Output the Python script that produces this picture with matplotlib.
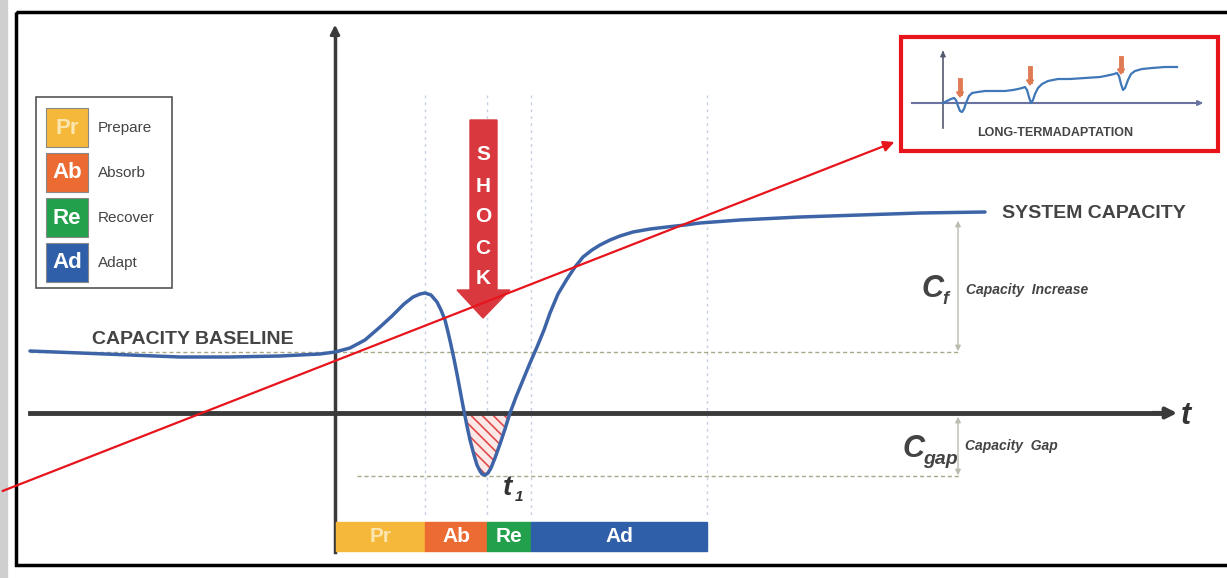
import numpy as np
import matplotlib.pyplot as plt
from matplotlib.patches import Rectangle, Polygon

plt.rcParams['font.family'] = ['Liberation Sans', 'DejaVu Sans']
plt.rcParams['hatch.linewidth'] = 1.2

# Main capacity curve (pixel coordinates of the diagram, y grows downward)
curve_x = [30, 80, 130, 180, 230, 280, 320, 335, 350, 365, 380, 392, 404, 413, 420,
           425, 431, 437, 441, 445, 448, 451, 454, 457, 460, 463, 467, 470, 474,
           477, 480, 482, 485, 488, 491, 495, 500, 505, 510, 516, 523, 530, 537,
           544, 550, 558, 567, 575, 583, 592, 600, 610, 620, 633, 650, 667, 685,
           700, 740, 800, 860, 920, 985]
curve_y = [351, 353, 355, 357, 357, 356, 354, 352, 348, 340, 327, 316, 304, 297, 294,
           293, 295, 302, 310, 320, 332, 345, 359, 374, 390, 406, 426, 440, 455,
           465, 471, 474, 475, 473, 468, 458, 444, 429, 413, 397, 380, 363, 347,
           330, 313, 294, 279, 267, 257, 250, 245, 240, 236, 232, 229, 227, 225,
           223, 220, 217, 215, 213, 212]

# Phases
phase_codes = ['Pr', 'Ab', 'Re', 'Ad']
phase_names = ['Prepare', 'Absorb', 'Recover', 'Adapt']
phase_colors = ['#F6B83A', '#EC6B33', '#23A04C', '#2F5FA9']
phase_edges = [336, 425, 487, 531, 707]

# Inset long-term adaptation curve
inset_x = [943, 947, 951, 954, 956, 958, 960, 962, 964, 966, 969, 972, 978, 985,
           995, 1005, 1013, 1018, 1022, 1025, 1027, 1029, 1031, 1033, 1035, 1038,
           1042, 1048, 1058, 1070, 1085, 1100, 1110, 1114, 1117, 1119, 1121, 1123,
           1125, 1128, 1131, 1135, 1142, 1152, 1165, 1177]
inset_y = [103, 101, 99, 98, 100, 106, 111, 112, 109, 103, 96, 93, 92, 91,
           91, 91, 90, 89, 88, 87, 90, 97, 103, 100, 94, 88,
           84, 81, 79, 79, 78, 77, 75, 74, 73, 76, 84, 90,
           88, 80, 74, 71, 69, 68, 67, 67]
shock_marks_x = [960, 1030, 1121]
shock_marks_top = [80, 68, 58]
shock_marks_bottom = [97, 85, 74]

fig = plt.figure(figsize=(12.27, 5.78), dpi=100)
ax = fig.add_axes([0, 0, 1, 1])
ax.set_xlim(0, 1227)
ax.set_ylim(578, 0)
ax.axis('off')

# page background pieces
ax.add_patch(Rectangle((0, 0), 7, 578, color='#cfcfcf', zorder=0))
ax.add_patch(Rectangle((16, 12), 1240, 553, fill=False, ec='black', lw=2.5, zorder=1))

# vertical phase guide lines
for xv in phase_edges[1:]:
    ax.plot([xv, xv], [95, 518], color='#c5d0e0', lw=1, ls=(0, (2, 3)), zorder=1)

# baseline and gap dashed lines
ax.plot([30, 960], [352, 352], color='#a9a98a', lw=1, ls=(0, (3, 2)), zorder=2)
ax.plot([357, 960], [476, 476], color='#a9a98a', lw=1, ls=(0, (3, 2)), zorder=2)

# axes
ax.plot([335, 335], [552, 30], color='#3a3a3a', lw=2.5, zorder=3)
ax.annotate('', xy=(335, 22), xytext=(335, 40),
            arrowprops=dict(arrowstyle='-|>', color='#3a3a3a', lw=2, mutation_scale=14), zorder=3)
ax.plot([30, 1165], [413, 413], color='#3a3a3a', lw=3.5, zorder=3)
ax.annotate('', xy=(1180, 413), xytext=(1150, 413),
            arrowprops=dict(arrowstyle='-|>', color='#3a3a3a', lw=3, mutation_scale=16), zorder=3)
ax.text(1186, 416, 't', fontsize=22, fontweight='bold', style='italic', color='#333333',
        ha='center', va='center', zorder=4)

# capacity gap hatch
cx = np.array(curve_x)
cy = np.array(curve_y)
ax.fill_between(cx, cy, 413, where=cy > 413, interpolate=True, facecolor='#fde8e8',
                edgecolor='#e04a4a', hatch='\\\\\\', lw=0, zorder=2)

# main curve
ax.plot(curve_x, curve_y, color='#3e64a8', lw=2.5, solid_capstyle='round',
        solid_joinstyle='round', zorder=4)

# shock arrow
ax.add_patch(Polygon([(470, 120), (497, 120), (497, 290), (510, 290), (483, 318),
                      (457, 290), (470, 290)], closed=True, color='#D8383E', zorder=5))
for k, ch in enumerate('SHOCK'):
    ax.text(483, 155 + k * 31, ch, fontsize=15, color='white', ha='center', va='center',
            fontweight='bold', zorder=6)

# t1
ax.text(503, 488, 't', fontsize=20, fontweight='bold', style='italic', color='#333333',
        ha='left', va='center', zorder=6)
ax.text(515, 497, '1', fontsize=11, fontweight='bold', style='italic', color='#333333',
        ha='left', va='center', zorder=6)

# phase bar
for i, code in enumerate(phase_codes):
    x0, x1 = phase_edges[i], phase_edges[i + 1]
    ax.add_patch(Rectangle((x0, 522), x1 - x0, 29, color=phase_colors[i], zorder=5))
    tc = '#fbe6b0' if code == 'Pr' else 'white'
    ax.text((x0 + x1) / 2, 537, code, fontsize=15, color=tc, ha='center', va='center',
            fontweight='bold', zorder=6)

# legend box
ax.add_patch(Rectangle((36, 97), 136, 191, fill=False, ec='#555555', lw=1.2, zorder=5))
for i, code in enumerate(phase_codes):
    y0 = 108 + i * 45
    ax.add_patch(Rectangle((46, y0), 42, 39, color=phase_colors[i], ec='#888888',
                           lw=0.8, zorder=5))
    tc = '#fbe6b0' if code == 'Pr' else 'white'
    ax.text(67, y0 + 20, code, fontsize=16, color=tc, ha='center', va='center',
            fontweight='bold', zorder=6)
    ax.text(98, y0 + 20, phase_names[i], fontsize=11, color='#444444', ha='left',
            va='center', zorder=6)

# labels
ax.text(193, 340, 'CAPACITY BASELINE', fontsize=14, fontweight='bold', color='#444444',
        ha='center', va='center', zorder=6)
ax.text(1094, 214, 'SYSTEM CAPACITY', fontsize=14, fontweight='bold', color='#444444',
        ha='center', va='center', zorder=6)

# capacity arrows
ax.annotate('', xy=(958, 218), xytext=(958, 354),
            arrowprops=dict(arrowstyle='<|-|>', color='#bcbcb0', lw=1, mutation_scale=8), zorder=3)
ax.annotate('', xy=(958, 414), xytext=(958, 478),
            arrowprops=dict(arrowstyle='<|-|>', color='#bcbcb0', lw=1, mutation_scale=8), zorder=3)
ax.text(933, 289, 'C', fontsize=22, fontweight='bold', style='italic', color='#444444',
        ha='center', va='center', zorder=6)
ax.text(945, 299, 'f', fontsize=13, fontweight='bold', style='italic', color='#444444',
        ha='center', va='center', zorder=6)
ax.text(966, 290, 'Capacity  Increase', fontsize=10, fontweight='bold', style='italic',
        color='#444444', ha='left', va='center', zorder=6)
ax.text(914, 449, 'C', fontsize=22, fontweight='bold', style='italic', color='#444444',
        ha='center', va='center', zorder=6)
ax.text(940, 460, 'gap', fontsize=14, fontweight='bold', style='italic', color='#444444',
        ha='center', va='center', zorder=6)
ax.text(965, 446, 'Capacity  Gap', fontsize=10, fontweight='bold', style='italic',
        color='#444444', ha='left', va='center', zorder=6)

# inset box
ax.add_patch(Rectangle((901, 37), 317, 114, fill=True, fc='white', ec='#e8141c', lw=3, zorder=6))
ax.plot([943, 943], [128, 52], color='#555a70', lw=1.2, zorder=7)
ax.annotate('', xy=(943, 48), xytext=(943, 58),
            arrowprops=dict(arrowstyle='-|>', color='#555a70', lw=1, mutation_scale=8), zorder=7)
ax.plot([912, 1200], [103, 103], color='#6a73a0', lw=1.5, zorder=7)
ax.annotate('', xy=(1206, 103), xytext=(1195, 103),
            arrowprops=dict(arrowstyle='-|>', color='#6a73a0', lw=1.2, mutation_scale=8), zorder=7)
ax.plot(inset_x, inset_y, color='#3f77b8', lw=1.6, solid_joinstyle='round', zorder=8)
for mx, mt, mb in zip(shock_marks_x, shock_marks_top, shock_marks_bottom):
    ax.plot([mx, mx], [mt, mb - 4], color='#e07a55', lw=3.5, zorder=8)
    ax.add_patch(Polygon([(mx - 3.5, mb - 5), (mx + 3.5, mb - 5), (mx, mb)], closed=True,
                         color='#e07a55', zorder=8))
ax.text(1055, 133, 'LONG-TERMADAPTATION', fontsize=9, fontweight='bold', color='#444444',
        ha='center', va='center', zorder=8)

# red pointer line
ax.annotate('', xy=(897, 141), xytext=(0, 492),
            arrowprops=dict(arrowstyle='-|>', color='#e8141c', lw=1.6, mutation_scale=16),
            zorder=9)

fig.savefig('out.png', dpi=100)
